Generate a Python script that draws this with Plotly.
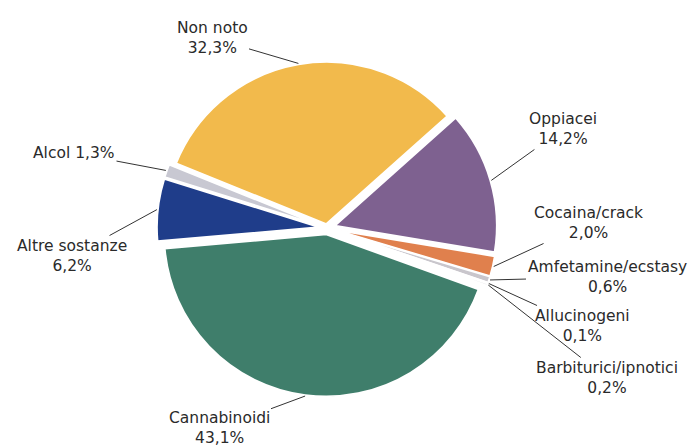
import math
import plotly.graph_objects as go

# ---- data ----
categories = ["Non noto", "Oppiacei", "Cocaina/crack", "Amfetamine/ecstasy",
              "Allucinogeni", "Barbiturici/ipnotici", "Cannabinoidi",
              "Altre sostanze", "Alcol"]
values = [32.3, 14.2, 2.0, 0.6, 0.1, 0.2, 43.1, 6.2, 1.3]
value_labels = ["32,3%", "14,2%", "2,0%", "0,6%", "0,1%", "0,2%", "43,1%", "6,2%", "1,3%"]

# ---- style ----
colors = ["#F2BA4C", "#7E6190", "#E0804D", "#C9C6CC", "#B8B8BE",
          "#D6D4D8", "#3F7E6B", "#1F3D8A", "#C8C8D2"]
pulls = [0.025, 0.05, 0.05, 0.05, 0.05, 0.05, 0.04, 0.05, 0.05]
rotation = -68

W, H = 692, 446
CX, CY = 327, 228          # pie centre (px from top-left)
R = 162                    # pie radius (px)
maxpull = max(pulls)
half = R * (1 + maxpull)
dom_x = [(CX - half) / W, (CX + half) / W]
dom_y = [(H - CY - half) / H, (H - CY + half) / H]

fig = go.Figure(go.Pie(
    labels=categories, values=values, sort=False, direction="clockwise",
    rotation=rotation, pull=pulls, textinfo="none", hoverinfo="label+percent",
    marker=dict(colors=colors, line=dict(color="white", width=1.8)),
    domain=dict(x=dom_x, y=dom_y), showlegend=False,
))

# label text centres (px) and label layout
label_pos = {
    "Non noto": (212, 38),
    "Oppiacei": (563, 129),
    "Cocaina/crack": (588, 223),
    "Amfetamine/ecstasy": (607, 277),
    "Allucinogeni": (582, 326),
    "Barbiturici/ipnotici": (607, 378),
    "Cannabinoidi": (219, 428),
    "Altre sostanze": (72, 256),
    "Alcol": (74, 153),
}

total = sum(values)
angle = rotation
annotations = []
for cat, v, vl, p in zip(categories, values, value_labels, pulls):
    span = 360 * v / total
    mid = math.radians(angle + span / 2)
    angle += span
    rr = R * (1 + p) + 1
    tipx = CX + rr * math.sin(mid)
    tipy = CY - rr * math.cos(mid)
    tx, ty = label_pos[cat]
    text = f"{cat} {vl}" if cat == "Alcol" else f"{cat}<br>{vl}"
    annotations.append(dict(
        x=tipx / W, y=1 - tipy / H, xref="paper", yref="paper",
        ax=tx - tipx, ay=ty - tipy, axref="pixel", ayref="pixel",
        text=text, showarrow=True, arrowhead=0, arrowwidth=1,
        arrowcolor="#333333", align="center", standoff=0,
        font=dict(family="DejaVu Sans, Arial, sans-serif", size=15.5, color="#2a2a2a"),
    ))

fig.update_layout(
    width=W, height=H, margin=dict(l=0, r=0, t=0, b=0),
    paper_bgcolor="white", plot_bgcolor="white",
    annotations=annotations,
)

fig.write_html("out.html", config={"displayModeBar": False},
               post_script="document.body.style.margin='0';")
